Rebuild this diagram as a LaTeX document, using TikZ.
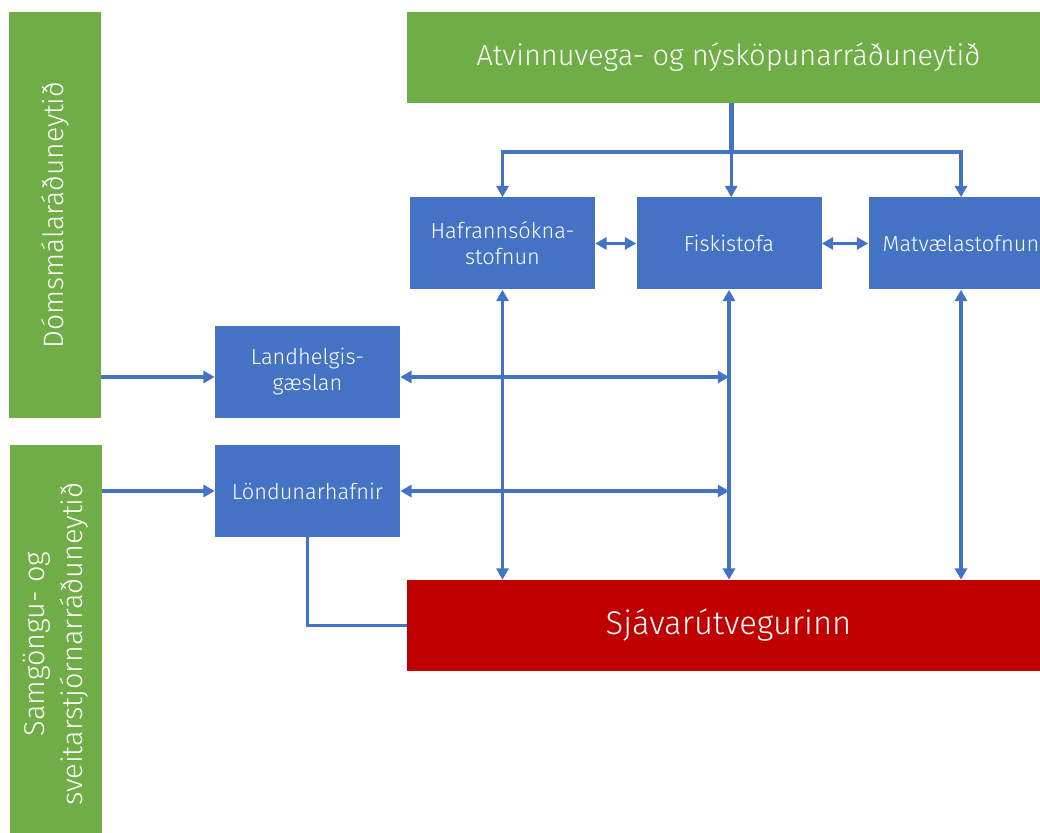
\documentclass[tikz,border=0pt]{standalone}
\usepackage{fontspec}
\setmainfont{Fira Sans}[UprightFont=* Light]
\usepackage{graphicx}
\usetikzlibrary{positioning, arrows.meta}
\definecolor{govgreen}{HTML}{70AD47}
\definecolor{agblue}{HTML}{4472C4}
\definecolor{seared}{HTML}{C00000}

\begin{document}
\begin{tikzpicture}[
  govbox/.style={fill=govgreen, text=white, inner sep=0pt, align=center},
  agbox/.style={fill=agblue, text=white, inner sep=0pt, align=center,
    minimum width=4.625cm, minimum height=2.3cm, font=\fontsize{15.5}{18.5}\selectfont},
  link/.style={draw=agblue, line width=2.4pt},
  arr/.style={link, -{Triangle[length=8pt,width=8.5pt]}},
  darr/.style={link, {Triangle[length=8pt,width=8.5pt]}-{Triangle[length=8pt,width=8.5pt]}}]
\clip (0,0) rectangle (26,-20.825);
% nodes %
\node[govbox, minimum width=16.075cm, minimum height=2.275cm,
  font=\fontsize{20.6}{24}\selectfont] (anr) at (18.2125,-1.4375)
  {Atvinnuvega- og nýsköpunarráðuneytið};
\node[govbox, minimum width=2.3cm, minimum height=10.15cm,
  font=\fontsize{20}{24}\selectfont] (doms) at (1.375,-5.375)
  {\rotatebox{90}{Dómsmálaráðuneytið}};
\node[govbox, minimum width=2.3cm, minimum height=9.95cm,
  font=\fontsize{20.5}{27}\selectfont] (samg) at (1.4,-16.1)
  {\rotatebox{90}{\begin{tabular}{@{}c@{}}Samgöngu- og\\sveitarstjórnarráðuneytið\end{tabular}}};
\node[agbox] (haf) at (12.5625,-6.0875) {Hafrannsókna-\\stofnun};
\node[agbox] (fisk) at (18.225,-6.0875) {Fiskistofa};
\node[agbox] (matv) at (24.025,-6.0875) {Matvælastofnun};
\node[agbox] (landh) at (7.6875,-9.3) {Landhelgis-\\gæslan};
\node[agbox] (lond) at (7.6875,-12.275) {Löndunarhafnir};
\node[fill=seared, text=white, inner sep=0pt, minimum width=16.075cm, minimum height=2.275cm,
  font=\fontsize{23.3}{28}\selectfont] (sjav) at (18.2125,-15.6375) {Sjávarútvegurinn};
\coordinate (split) at (18.28,-3.8);
\coordinate (gsl) at ([yshift=-1.25mm]landh.east);
% edges %
\draw[link, line width=3.4pt] (anr.south -| split) -- (split);
\draw[arr] (split) -| (haf);
\draw[arr] (split) -- (split |- fisk.north);
\draw[arr] (split) -| (matv);
\draw[darr] (haf) -- (fisk);
\draw[darr] (fisk) -- (matv);
\draw[darr] (haf) -- (haf |- sjav.north);
\draw[darr] (fisk) -- (fisk |- sjav.north);
\draw[darr] (matv) -- (matv |- sjav.north);
\draw[arr] (doms.east |- gsl) -- (landh.west |- gsl);
\draw[arr] (samg.east |- lond) -- (lond);
\draw[darr] (gsl) -- (gsl -| fisk);
\draw[darr] (lond) -- (lond -| fisk);
\draw[link] (lond) |- (sjav);
\end{tikzpicture}
\end{document}
